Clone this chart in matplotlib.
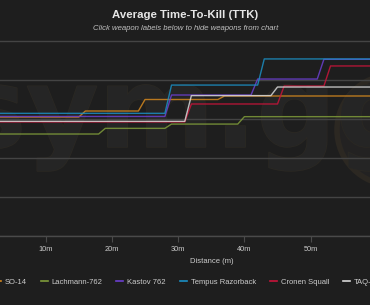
import matplotlib
matplotlib.use("Agg")
import matplotlib.pyplot as plt
from matplotlib.lines import Line2D
from matplotlib.patches import Ellipse
import matplotlib.patheffects as pe

# ---- data (distance in m, TTK in ms) ----
so14_d = [0, 15, 16, 24, 25, 36, 37, 60]
so14_v = [610, 610, 641, 641, 700, 700, 718, 718]

lach_d = [0, 18, 19, 28, 29, 39, 40, 60]
lach_v = [523, 523, 552, 552, 574, 574, 612, 612]

kast_d = [0, 28, 29, 41, 42, 51, 52, 60]
kast_v = [613, 613, 723, 723, 805, 805, 906, 906]

temp_d = [0, 28, 29, 42, 43, 60]
temp_v = [629, 629, 774, 774, 908, 908]

cron_d = [0, 31, 32, 45, 46, 52, 53, 60]
cron_v = [585, 585, 677, 677, 769, 769, 872, 872]

taq_d = [0, 31, 32, 44, 45, 60]
taq_v = [588, 588, 720, 720, 764, 764]

series = [
    ("SO-14", so14_d, so14_v, "#d4881e"),
    ("Lachmann-762", lach_d, lach_v, "#7f9c3a"),
    ("Kastov 762", kast_d, kast_v, "#6b3fd0"),
    ("Tempus Razorback", temp_d, temp_v, "#1b8fc4"),
    ("Cronen Squall", cron_d, cron_v, "#c8143a"),
    ("TAQ-V", taq_d, taq_v, "#d8d8d8"),
]

xticks = [10, 20, 30, 40, 50]
xtick_labels = ["10m", "20m", "30m", "40m", "50m"]
yticks = [0, 200, 400, 600, 800, 1000]

BG = "#1e1e1e"
W, H = 370, 305
fig = plt.figure(figsize=(W / 100, H / 100), dpi=100, facecolor=BG)
plt.rcParams["font.family"] = ["Liberation Sans", "DejaVu Sans"]

# watermark (behind the plot)
fig.text(-40 / W, (H - 147) / H, "sym.gg", fontsize=80, fontweight="bold",
         family="DejaVu Sans", color="#252525", va="baseline", ha="left",
         zorder=0,
         path_effects=[pe.withStroke(linewidth=1.0, foreground="#2c2923")])
fig.add_artist(Ellipse((392 / W, (H - 130) / H), 110 / W, 110 / H,
                       transform=fig.transFigure, facecolor="#232222",
                       edgecolor="#2c2822", linewidth=4, zorder=0))

ymax = 1030
ax_h_px = 195 * ymax / 1000
ax = fig.add_axes([0, (H - 236) / H, 1, ax_h_px / H])
ax.set_zorder(2)
ax.set_facecolor("none")

handles = []
for name, d, v, c in series:
    ax.plot(d, v, color=c, lw=1.0, alpha=0.85, label=name)
    handles.append(Line2D([], [], color=c, lw=1.2))

ax.set_yticks(yticks)
ax.set_yticklabels([])
ax.tick_params(axis="y", length=0)
ax.grid(axis="y", color="#444444", lw=1.0)
ax.set_axisbelow(True)
for s in ["top", "left", "right"]:
    ax.spines[s].set_visible(False)
ax.spines["bottom"].set_color("#4a4a4a")
ax.spines["bottom"].set_linewidth(1.0)

ax.set_xticks(xticks)
ax.set_xticklabels(xtick_labels)
ax.tick_params(axis="x", colors="#4a4a4a", labelcolor="#cccccc",
               labelsize=5.3, length=4, width=0.8, pad=3)
ax.set_xlim(3.11, 58.96)
ax.set_ylim(0, ymax)

ax.set_xlabel("Distance (m)", color="#cccccc", fontsize=5.5)
ax.xaxis.set_label_coords(211.5 / W, (236 - 261.7) / ax_h_px)
ax.xaxis.label.set_va("center")

fig.text(185.5 / W, (H - 15) / H, "Average Time-To-Kill (TTK)", ha="center",
         va="center", fontsize=8.2, fontweight="bold", color="#e6e6e6")
fig.text(186 / W, (H - 28.5) / H,
         "Click weapon labels below to hide weapons from chart",
         ha="center", va="center", fontsize=5.6, style="italic",
         color="#c0c0c0")

leg = fig.legend(handles, [s[0] for s in series], ncol=6,
                 loc="center left", bbox_to_anchor=(-6 / W, (H - 282) / H),
                 frameon=False, fontsize=5.5, handlelength=0.92,
                 handletextpad=0.52, columnspacing=1.8, borderpad=0,
                 borderaxespad=0)
for t in leg.get_texts():
    t.set_color("#cccccc")

fig.savefig("out.png", dpi=100, facecolor=BG)
